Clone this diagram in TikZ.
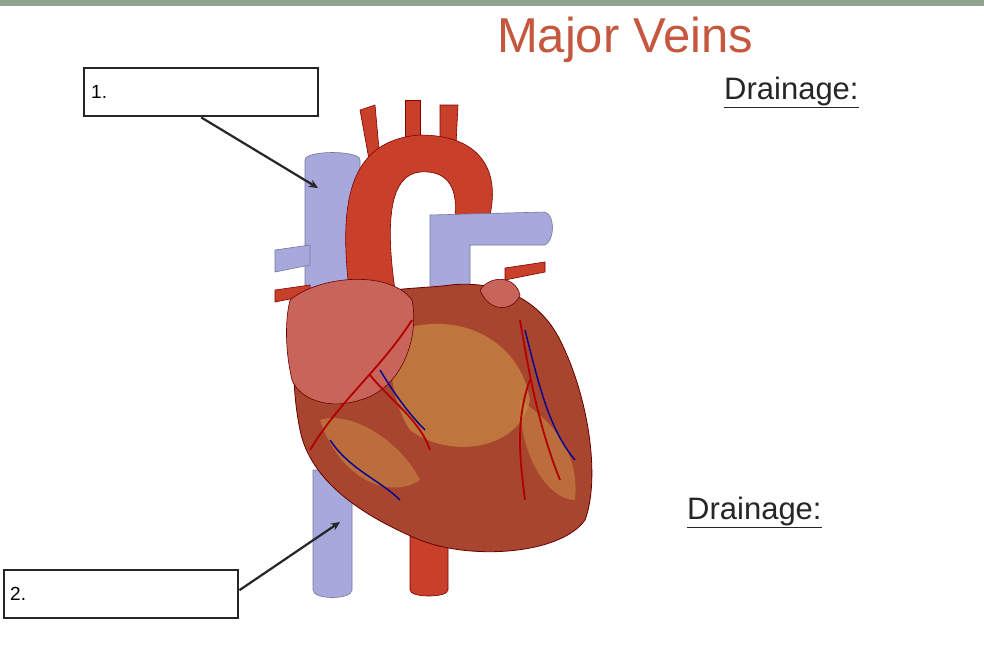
\documentclass[tikz,border=0pt]{standalone}
\usepackage{fontspec}
\setmainfont{Liberation Sans}
\usetikzlibrary{arrows.meta}
\definecolor{ttl}{HTML}{C5573F}
\definecolor{vn}{HTML}{A7A9DC}
\definecolor{ar}{HTML}{C8402A}
\definecolor{hb}{HTML}{A8452E}
\definecolor{fat}{HTML}{C98A45}
\definecolor{atr}{HTML}{C8645A}
\begin{document}
\begin{tikzpicture}[x=1pt,y=-1pt,
  lbox/.style={draw=black!85,line width=2.4pt,minimum width=234pt,minimum height=48pt,anchor=north west,inner sep=0pt},
  ptr/.style={draw=black!85,line width=2.2pt,-{Stealth[length=9pt,width=8pt]}},
  vein/.style={fill=vn,draw=vn!70!black,line width=0.6pt},
  art/.style={fill=ar,draw=red!50!black,line width=0.6pt},
  cor/.style={red!70!black,line width=1.8pt},
  cv/.style={blue!60!black,line width=1.4pt}]
\useasboundingbox (0,0) rectangle (984,670);
\fill[white] (0,0) rectangle (984,670);
\fill[gray!50!green!20!gray!80] (0,0) rectangle (984,6);
% vessels behind
\draw[vein] (305,160) .. controls (305,150) and (360,150) .. (360,160) -- (360,300) -- (305,300) -- cycle;
\draw[vein] (275,250) -- (310,245) -- (310,265) -- (275,272) -- cycle;
\draw[art] (275,290) -- (310,285) -- (310,295) -- (275,302) -- cycle;
\draw[vein] (313,470) -- (352,470) -- (352,590) .. controls (352,600) and (313,600) .. (313,590) -- cycle;
\draw[art] (410,490) -- (448,490) -- (448,590) .. controls (448,598) and (410,598) .. (410,590) -- cycle;
% arch branches
\draw[art] (360,110) -- (375,105) -- (380,160) -- (370,165) -- cycle;
\draw[art] (405,100) -- (420,100) -- (420,160) -- (405,160) -- cycle;
\draw[art] (440,105) -- (458,105) -- (455,165) -- (440,165) -- cycle;
% aorta
\draw[art] (348,280) .. controls (340,200) and (350,140) .. (420,135)
  .. controls (480,135) and (500,170) .. (490,215) -- (455,215)
  .. controls (458,185) and (445,170) .. (420,172)
  .. controls (390,175) and (385,220) .. (395,290) -- cycle;
% pulmonary
\draw[vein] (430,215) -- (545,212) .. controls (555,215) and (555,240) .. (545,245) -- (470,245) -- (470,300) -- (430,300) -- cycle;
\draw[art] (505,268) -- (545,262) -- (545,272) -- (505,280) -- cycle;
% heart body
\draw[fill=hb,draw=red!40!black,line width=0.8pt]
 (300,330) .. controls (330,285) and (420,290) .. (450,285)
 .. controls (500,280) and (540,300) .. (560,340)
 .. controls (590,400) and (600,480) .. (585,520)
 .. controls (560,555) and (470,560) .. (420,540)
 .. controls (360,515) and (310,480) .. (300,430)
 .. controls (292,390) and (292,350) .. (300,330) -- cycle;
% fat patches
\fill[fat,opacity=0.7] (400,330) .. controls (460,310) and (520,340) .. (530,400) .. controls (520,450) and (450,460) .. (410,430) .. controls (390,400) and (385,350) .. (400,330);
\fill[fat,opacity=0.6] (320,420) .. controls (350,410) and (400,440) .. (420,480) .. controls (390,500) and (340,480) .. (320,420);
\fill[fat,opacity=0.6] (520,400) .. controls (550,420) and (580,450) .. (575,500) .. controls (550,500) and (520,460) .. (520,400);
% right atrium
\draw[fill=atr,draw=red!40!black,line width=0.6pt]
 (290,300) .. controls (320,275) and (390,270) .. (412,300)
 .. controls (420,340) and (400,390) .. (360,400)
 .. controls (330,410) and (300,400) .. (292,380)
 .. controls (285,350) and (285,320) .. (290,300) -- cycle;
% left auricle
\draw[fill=atr,draw=red!40!black,line width=0.6pt]
 (480,290) .. controls (490,275) and (515,275) .. (520,295) .. controls (515,310) and (490,315) .. (480,290) -- cycle;
% coronary vessels
\draw[cor] (412,320) .. controls (380,370) and (340,400) .. (310,450);
\draw[cor] (370,375) .. controls (390,400) and (420,420) .. (430,450);
\draw[cor] (520,320) .. controls (530,380) and (540,430) .. (560,480);
\draw[cor] (530,380) .. controls (515,420) and (520,460) .. (525,500);
\draw[cv] (525,330) .. controls (540,390) and (550,430) .. (575,460);
\draw[cv] (380,370) .. controls (395,395) and (410,415) .. (425,430);
\draw[cv] (330,440) .. controls (350,470) and (380,480) .. (400,500);
% texts
\node[text=ttl,font=\fontsize{49}{54}\selectfont] (title) at (625,40) {Major Veins};
\node[text=black!85,font=\fontsize{31}{36}\selectfont,anchor=west,inner sep=0pt] (d1) at (724,92) {\underline{Drainage:}};
\node[text=black!85,font=\fontsize{31}{36}\selectfont,anchor=west,inner sep=0pt] (d2) at (687,512) {\underline{Drainage:}};
\node[lbox] (b1) at (83,67) {};
\node[font=\fontsize{19}{22}\selectfont,anchor=west,inner sep=0pt] (t1) at (91,92) {1.};
\node[lbox] (b2) at (3,569) {};
\node[font=\fontsize{19}{22}\selectfont,anchor=west,inner sep=0pt] (t2) at (10,594) {2.};
\coordinate (e1) at (318,188);
\coordinate (e2) at (340,522);
\draw[ptr] (b1.south) ++(0,0) coordinate (s1) (s1) -- (e1);
\draw[ptr] (b2.east) ++(0,-4) coordinate (s2) (s2) -- (e2);
\end{tikzpicture}
\end{document}
